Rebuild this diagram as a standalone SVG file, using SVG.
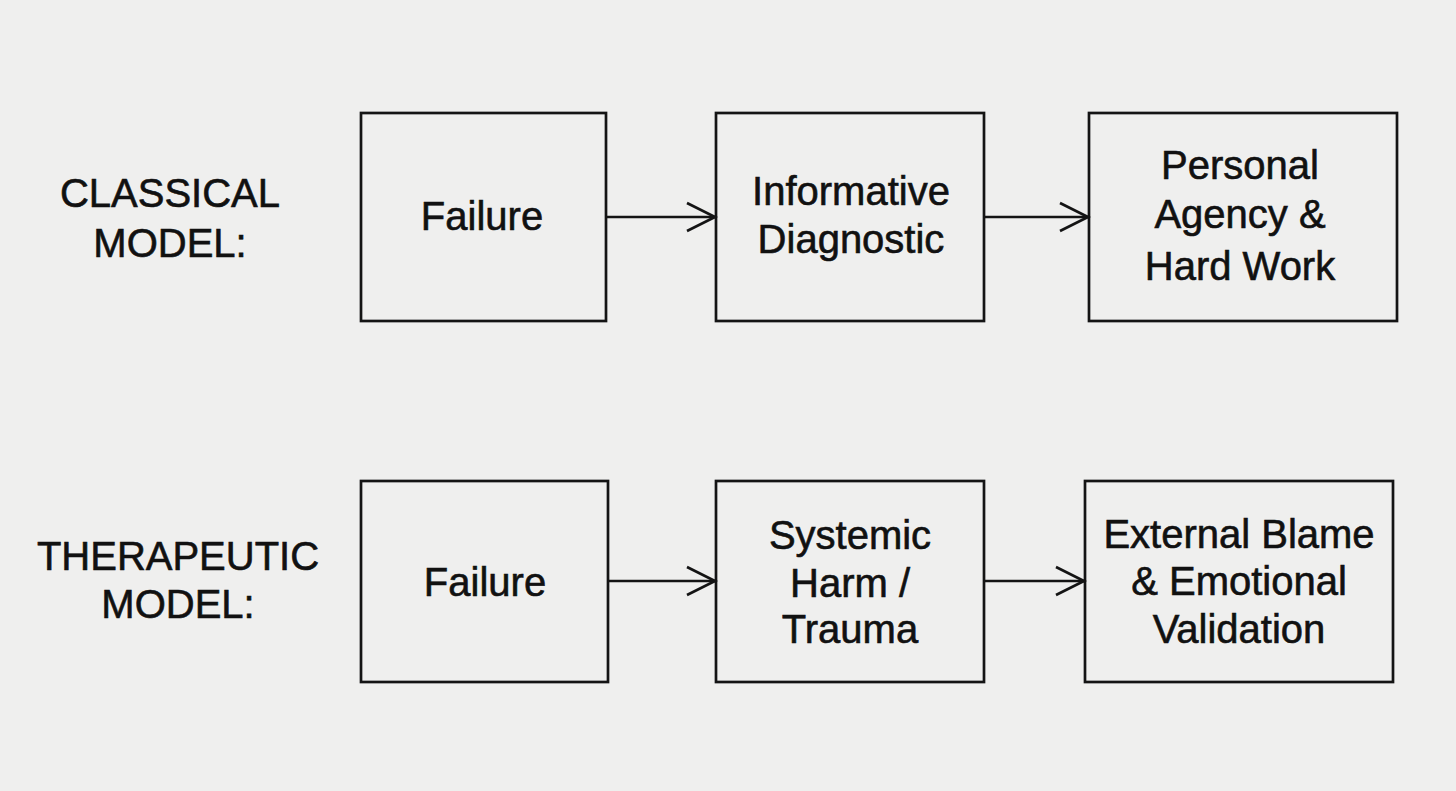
<svg xmlns="http://www.w3.org/2000/svg" width="1456" height="791" viewBox="0 0 1456 791">
<style>
.box{fill:#efefee;stroke:#141414;stroke-width:2.7}
.t{font-family:"Liberation Sans",Arial,sans-serif;font-size:40px;fill:#111;stroke:#111;stroke-width:0.6;text-anchor:middle}
.c{stroke:#141414;stroke-width:2.7;fill:none}
</style>
<defs>
<marker id="arr" markerWidth="32" markerHeight="34" refX="29" refY="16" orient="auto" markerUnits="userSpaceOnUse">
<path d="M1,2 L29,16 L1,30" fill="none" stroke="#141414" stroke-width="2.7"/>
</marker>
</defs>
<rect width="1456" height="791" fill="#efefee"/>
<g id="label-classical"><text class="t" x="170" y="207">CLASSICAL</text><text class="t" x="170" y="257">MODEL:</text></g>
<g id="label-therapeutic"><text class="t" x="178" y="570">THERAPEUTIC</text><text class="t" x="178" y="618">MODEL:</text></g>
<g id="c-failure"><rect class="box" x="361" y="113" width="245" height="208"/><text class="t" x="482" y="230">Failure</text></g>
<g id="c-diag"><rect class="box" x="716" y="113" width="268" height="208"/><text class="t" x="851" y="205">Informative</text><text class="t" x="851" y="253">Diagnostic</text></g>
<g id="c-agency"><rect class="box" x="1089" y="113" width="308" height="208"/><text class="t" x="1240" y="179">Personal</text><text class="t" x="1240" y="228">Agency &amp;</text><text class="t" x="1240" y="280">Hard Work</text></g>
<g id="t-failure"><rect class="box" x="361" y="481" width="247" height="201"/><text class="t" x="485" y="596">Failure</text></g>
<g id="t-harm"><rect class="box" x="716" y="481" width="268" height="201"/><text class="t" x="850" y="549">Systemic</text><text class="t" x="850" y="597">Harm /</text><text class="t" x="850" y="643">Trauma</text></g>
<g id="t-blame"><rect class="box" x="1085" y="481" width="308" height="201"/><text class="t" x="1239" y="548">External Blame</text><text class="t" x="1239" y="595">&amp; Emotional</text><text class="t" x="1239" y="643">Validation</text></g>
<g id="connectors">
<line class="c" x1="606" y1="217" x2="715" y2="217" marker-end="url(#arr)"/>
<line class="c" x1="984" y1="217" x2="1088" y2="217" marker-end="url(#arr)"/>
<line class="c" x1="608" y1="581" x2="715" y2="581" marker-end="url(#arr)"/>
<line class="c" x1="984" y1="581" x2="1084" y2="581" marker-end="url(#arr)"/>
</g>
</svg>
